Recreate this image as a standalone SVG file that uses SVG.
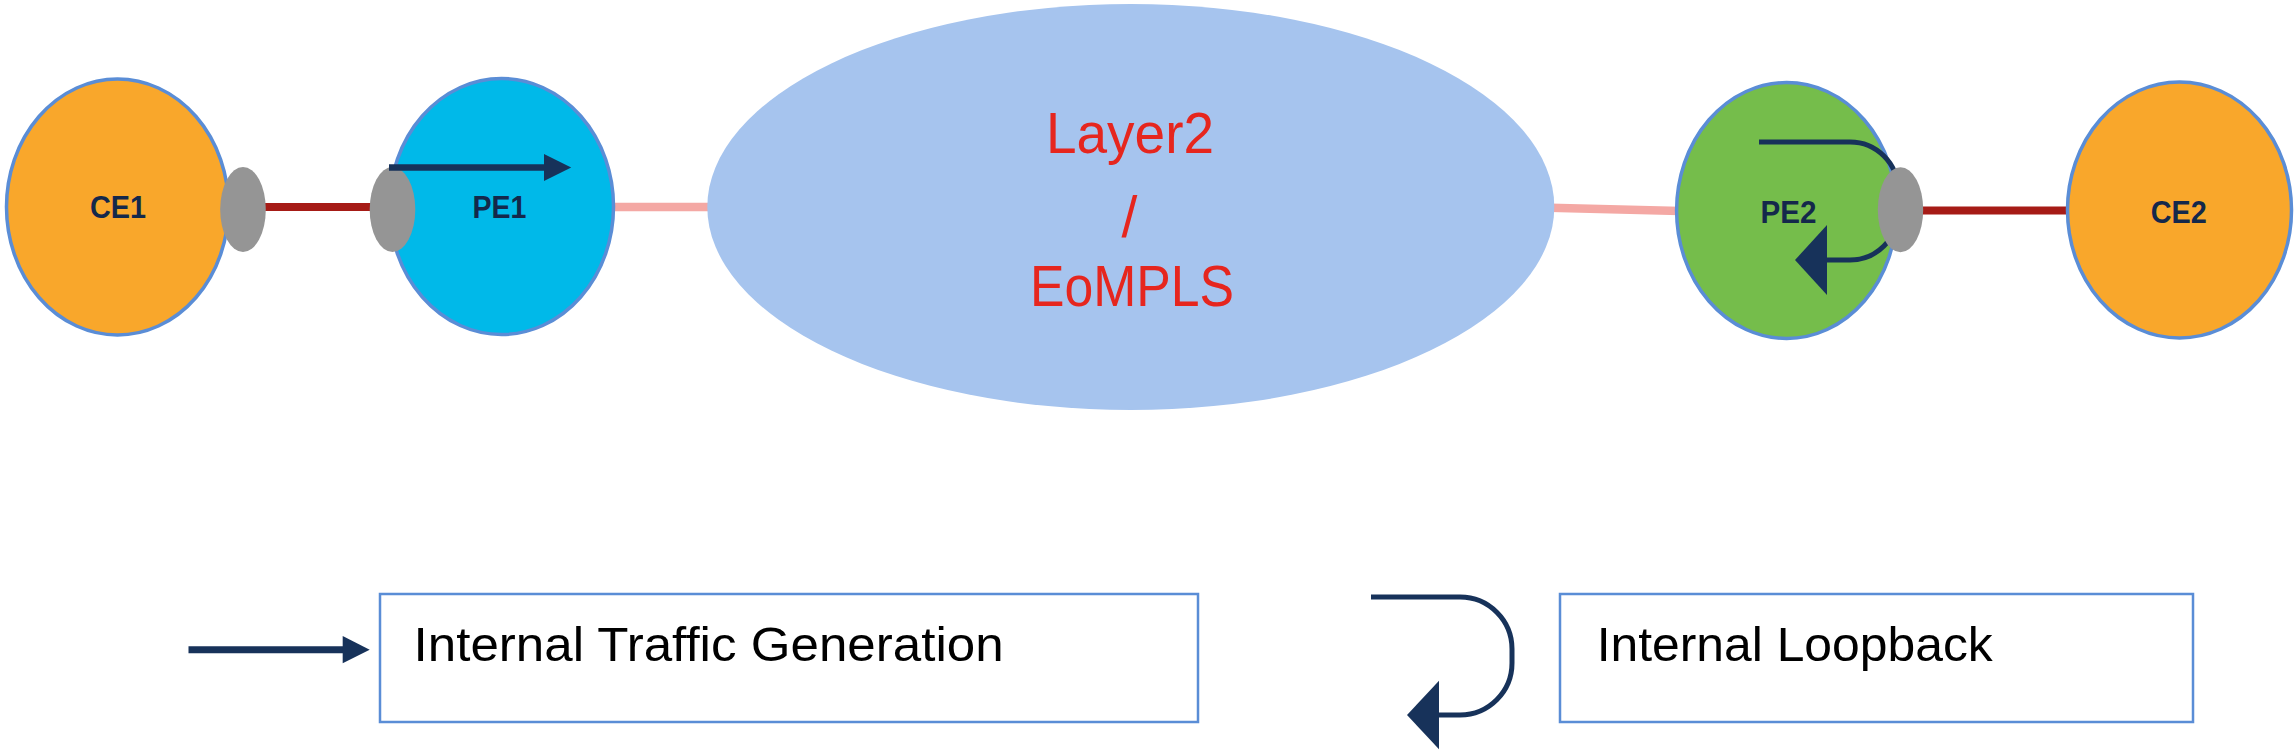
<svg xmlns="http://www.w3.org/2000/svg" width="2296" height="751" viewBox="0 0 2296 751">
<style>
.node{stroke:#5a8dd6;stroke-width:3.5}
.ce{fill:#f9a72b}
.port{fill:#959595}
.lbl{font-family:"Liberation Sans",Arial,sans-serif;font-weight:bold;font-size:31px;fill:#14284b;text-anchor:middle}
.cloud{font-family:"Liberation Sans",Arial,sans-serif;font-size:57px;fill:#e6261e;text-anchor:middle}
.leg{font-family:"Liberation Sans",Arial,sans-serif;font-size:48px;fill:#000}
.box{fill:#fff;stroke:#5a8dd6;stroke-width:2.5}
.red{stroke:#a61b16;stroke-width:8}
.pink{stroke:#f4a8a4;stroke-width:8.5}
.navy{fill:#17325a}
.loop{fill:none;stroke:#17325a;stroke-width:5}
</style>
<rect width="2296" height="751" fill="#fff"/>
<g id="connectors">
<line class="red" x1="262" y1="207" x2="374" y2="207"/>
<line class="red" x1="1920" y1="210.5" x2="2070" y2="210.5"/>
<line class="pink" x1="610" y1="207" x2="712" y2="207"/>
<line class="pink" x1="1550" y1="207.8" x2="1680" y2="210.9"/>
</g>
<g id="CE1">
<ellipse class="node ce" cx="117.5" cy="207" rx="111" ry="128"/>
<text class="lbl" x="118" y="218" textLength="56" lengthAdjust="spacingAndGlyphs">CE1</text>
</g>
<g id="PE1">
<ellipse class="node" fill="#00b9e9" cx="501.5" cy="206.5" rx="112" ry="128"/>
<text class="lbl" x="499.5" y="218" textLength="54" lengthAdjust="spacingAndGlyphs">PE1</text>
</g>
<g id="Layer2">
<ellipse fill="#a6c4ee" cx="1130.8" cy="207" rx="423.5" ry="203"/>
<text class="cloud" x="1130" y="152.7" textLength="168" lengthAdjust="spacingAndGlyphs">Layer2</text>
<text class="cloud" x="1129.5" y="237" font-size="75">/</text>
<text class="cloud" x="1132" y="305.7" textLength="204" lengthAdjust="spacingAndGlyphs">EoMPLS</text>
</g>
<g id="PE2">
<ellipse class="node" fill="#75bd4b" cx="1786.6" cy="210.5" rx="110" ry="128"/>
<text class="lbl" x="1788.6" y="222.7" textLength="56" lengthAdjust="spacingAndGlyphs">PE2</text>
<path class="loop" d="M1759,142 H1850 A48,48 0 0 1 1898,190 V212 A48,48 0 0 1 1850,260 H1825"/>
<polygon class="navy" points="1795,260 1827,225 1827,295"/>
</g>
<g id="CE2">
<ellipse class="node ce" cx="2179.5" cy="210" rx="112" ry="128"/>
<text class="lbl" x="2178.8" y="222.7" textLength="56" lengthAdjust="spacingAndGlyphs">CE2</text>
</g>
<g id="ports">
<ellipse class="port" cx="243" cy="209.5" rx="22.8" ry="42.5"/>
<ellipse class="port" cx="392.5" cy="209.5" rx="22.8" ry="42.5"/>
<ellipse class="port" cx="1900.5" cy="209.8" rx="22.7" ry="42.5"/>
</g>
<g id="PE1-traffic">
<line x1="389" y1="167.5" x2="546" y2="167.5" stroke="#17325a" stroke-width="6.7"/>
<polygon class="navy" points="544,154 571.2,167.5 544,181"/>
</g>
<g id="legend-traffic">
<line x1="188.5" y1="649.7" x2="345" y2="649.7" stroke="#17325a" stroke-width="7"/>
<polygon class="navy" points="342.7,636 369.7,649.7 342.7,663.3"/>
<rect class="box" x="380" y="594" width="818" height="128"/>
<text class="leg" x="413.6" y="660.7" textLength="590" lengthAdjust="spacingAndGlyphs">Internal Traffic Generation</text>
</g>
<g id="legend-loopback">
<path class="loop" d="M1371,597 H1460 A52,52 0 0 1 1512,649 V663 A52,52 0 0 1 1460,715 H1437"/>
<polygon class="navy" points="1407,715 1439,680.7 1439,749.3"/>
<rect class="box" x="1560" y="594" width="633" height="128"/>
<text class="leg" x="1596.7" y="660.7" textLength="396" lengthAdjust="spacingAndGlyphs">Internal Loopback</text>
</g>
</svg>
